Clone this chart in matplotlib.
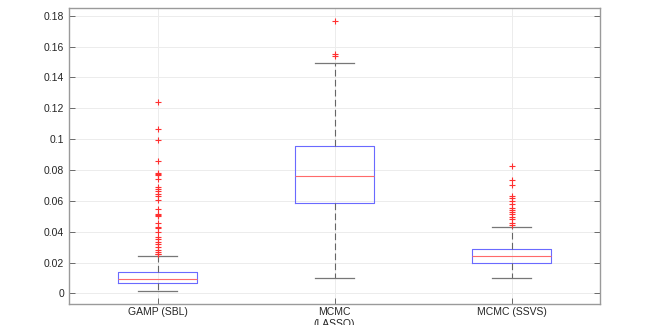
import matplotlib
matplotlib.use("Agg")
import matplotlib.pyplot as plt

plt.rcParams['font.family'] = ['Liberation Sans', 'DejaVu Sans']

categories = ["GAMP (SBL)", "MCMC\n(LASSO)", "MCMC (SSVS)"]

# box statistics: lower whisker, q1, median, q3, upper whisker
whislo = [0.0017, 0.0097, 0.0101]
q1 = [0.0065, 0.0586, 0.0194]
med = [0.0091, 0.0761, 0.0240]
q3 = [0.0136, 0.0953, 0.0287]
whishi = [0.0240, 0.1493, 0.0428]

fliers_gamp = [0.1240, 0.1065, 0.0994, 0.0855, 0.0782, 0.0773, 0.0765, 0.0739,
               0.0691, 0.0678, 0.0663, 0.0646, 0.0631, 0.0607, 0.0545, 0.0514,
               0.0506, 0.0501, 0.0458, 0.0430, 0.0423, 0.0395, 0.0365, 0.0354,
               0.0335, 0.0320, 0.0300, 0.0279, 0.0266, 0.0257, 0.0253]
fliers_lasso = [0.1763, 0.1553, 0.1540]
fliers_ssvs = [0.0823, 0.0735, 0.0700, 0.0633, 0.0616, 0.0598, 0.0577, 0.0555,
               0.0540, 0.0525, 0.0512, 0.0495, 0.0480, 0.0454, 0.0443]
fliers = [fliers_gamp, fliers_lasso, fliers_ssvs]

yticks = [0, 0.02, 0.04, 0.06, 0.08, 0.1, 0.12, 0.14, 0.16, 0.18]
ytick_labels = ["0", "0.02", "0.04", "0.06", "0.08", "0.1", "0.12", "0.14", "0.16", "0.18"]

fig = plt.figure(figsize=(6.46, 3.25), dpi=100)
ax = fig.add_axes([69/646, 1-304/325, (600-69)/646, (304-8)/325])

stats = []
for i in range(3):
    stats.append(dict(whislo=whislo[i], q1=q1[i], med=med[i], q3=q3[i],
                      whishi=whishi[i], fliers=fliers[i], label=categories[i]))

positions = [1, 2, 3]
ax.bxp(stats, positions=positions, widths=0.45, showfliers=True,
       boxprops=dict(color='#6a6aff', linewidth=0.8),
       medianprops=dict(color='#ff6a6a', linewidth=0.8),
       whiskerprops=dict(color='#666666', linewidth=0.8, linestyle=(0, (6, 3))),
       capprops=dict(color='#777777', linewidth=0.9),
       capwidths=0.225,
       flierprops=dict(marker='+', markeredgecolor='#ff3030', markersize=5,
                       markeredgewidth=0.8, linestyle='none'))

ax.set_xlim(0.5, 3.5)
ax.set_ylim(-0.0069, 0.185)
ax.set_yticks(yticks)
ax.set_yticklabels(ytick_labels)
ax.set_xticks(positions)
ax.set_xticklabels(categories, linespacing=1.15)

ax.grid(True, color='#ececec', linewidth=0.7)
ax.set_axisbelow(True)
ax.tick_params(axis='both', direction='in', labelsize=7.5, colors='#555555',
               length=4, width=0.6)
ax.tick_params(axis='y', right=True, left=True)
ax.tick_params(axis='x', top=False, pad=2.5)
for t in ax.get_xticklabels() + ax.get_yticklabels():
    t.set_color('#262626')
for s in ax.spines.values():
    s.set_color('#9a9a9a')
    s.set_linewidth(1.0)

fig.savefig("out.png", dpi=100)
